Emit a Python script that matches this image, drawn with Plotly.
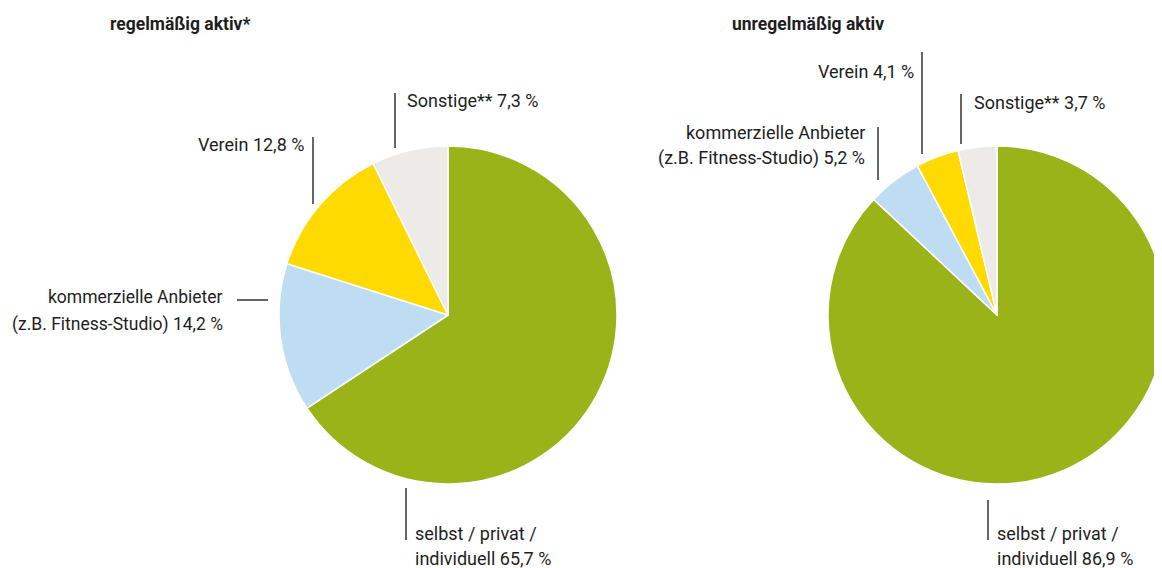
import plotly.graph_objects as go

categories = ["selbst / privat / individuell", "kommerzielle Anbieter (z.B. Fitness-Studio)", "Verein", "Sonstige**"]
regular = [65.7, 14.2, 12.8, 7.3]
irregular = [86.9, 5.2, 4.1, 3.7]
titles = ["regelmäßig aktiv*", "unregelmäßig aktiv"]
colors = ["#9AB318", "#BEDCF2", "#FFDA00", "#EDEAE7"]

W, H = 1162, 568
OFF = 8  # default page body margin
FONT = "Roboto, sans-serif"
TXT = "#1e1e1e"
LINE = "#333333"


def fmt(v):
    return f"{v:.1f}".replace(".", ",") + " %"


def px(x):
    return (x - OFF) / W


def py(y):
    return 1 - (y - OFF) / H


fig = go.Figure()

# left pie: center (448,315) r 169 ; right pie: center (997,315) r 169
fig.add_trace(go.Pie(labels=categories, values=regular, sort=False, direction="clockwise",
                     rotation=0, textinfo="none", hoverinfo="label+percent",
                     marker=dict(colors=colors, line=dict(color="white", width=1.5)),
                     domain=dict(x=[px(279), px(617)], y=[py(484), py(146)]),
                     showlegend=False))
fig.add_trace(go.Pie(labels=categories, values=irregular, sort=False, direction="clockwise",
                     rotation=0, textinfo="none", hoverinfo="label+percent",
                     marker=dict(colors=colors, line=dict(color="white", width=1.5)),
                     domain=dict(x=[px(828), px(1166)], y=[py(484), py(146)]),
                     showlegend=False))

ann = []
shapes = []


def text(x, y, s, xanchor, size=18):
    ann.append(dict(x=px(x), y=py(y), xref="paper", yref="paper", text=s,
                    showarrow=False, xanchor=xanchor, yanchor="middle", align=xanchor,
                    font=dict(family=FONT, size=size, color=TXT)))


def vline(x, y0, y1):
    shapes.append(dict(type="line", xref="paper", yref="paper", x0=px(x), x1=px(x),
                       y0=py(y0), y1=py(y1), line=dict(color=LINE, width=1.5)))


def hline(x0, x1, y):
    shapes.append(dict(type="line", xref="paper", yref="paper", x0=px(x0), x1=px(x1),
                       y0=py(y), y1=py(y), line=dict(color=LINE, width=1.5)))


# titles
text(108, 24, f"<b>{titles[0]}</b>", "left", size=17.5)
text(730, 24, f"<b>{titles[1]}</b>", "left", size=17.5)

# left chart labels
text(405, 100, f"Sonstige** {fmt(regular[3])}", "left")
vline(395, 93, 148)
text(306, 145, f"Verein {fmt(regular[2])}", "right")
vline(313, 137, 204)
text(225, 297, "kommerzielle Anbieter", "right", size=17.5)
text(225, 324, f"(z.B. Fitness-Studio) {fmt(regular[1])}", "right", size=17.5)
hline(237, 268, 300)
text(413, 533, "selbst / privat /", "left")
text(413, 558, f"individuell {fmt(regular[0])}", "left")
vline(406, 488, 540)

# right chart labels
text(916, 72, f"Verein {fmt(irregular[2])}", "right")
vline(922, 52, 154)
text(972, 103, f"Sonstige** {fmt(irregular[3])}", "left")
vline(961, 94, 144)
text(867, 133, "kommerzielle Anbieter", "right")
text(867, 158, f"(z.B. Fitness-Studio) {fmt(irregular[1])}", "right")
vline(878, 127, 180)
text(995, 533, "selbst / privat /", "left")
text(995, 558, f"individuell {fmt(irregular[0])}", "left")
vline(988, 500, 540)

fig.update_layout(width=W, height=H, margin=dict(l=0, r=0, t=0, b=0),
                  paper_bgcolor="white", plot_bgcolor="white",
                  annotations=ann, shapes=shapes,
                  font=dict(family=FONT, color=TXT))

fig.write_html("out.html")
